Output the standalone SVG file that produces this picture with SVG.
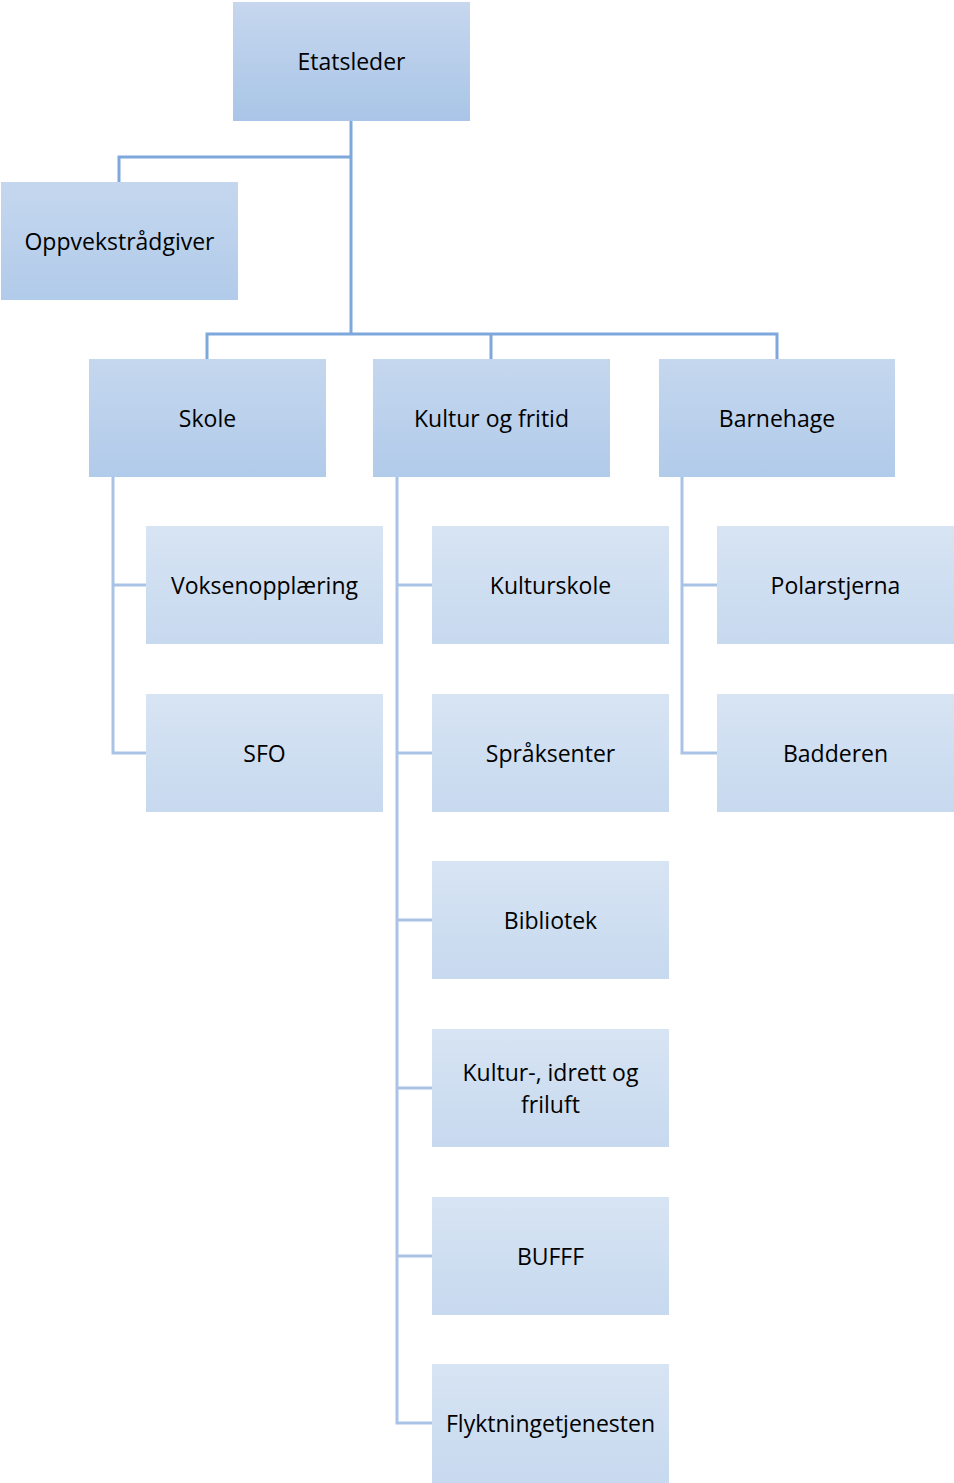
<svg xmlns="http://www.w3.org/2000/svg" width="954" height="1483" viewBox="0 0 954 1483">
<defs>
<linearGradient id="g1" x1="0" y1="0" x2="0" y2="1"><stop offset="0" stop-color="#c6d7ee"/><stop offset="1" stop-color="#a9c5e7"/></linearGradient>
<linearGradient id="g2" x1="0" y1="0" x2="0" y2="1"><stop offset="0" stop-color="#c5d7ee"/><stop offset="1" stop-color="#b1cbea"/></linearGradient>
<linearGradient id="g3" x1="0" y1="0" x2="0" y2="1"><stop offset="0" stop-color="#d7e4f3"/><stop offset="1" stop-color="#c7d9ef"/></linearGradient>
</defs>
<style>
text{font-family:"Open Sans","Noto Sans",sans-serif;font-size:23px;fill:#000;text-anchor:middle;dominant-baseline:central}
.c1{fill:none;stroke:#7ea7dc;stroke-width:3}
.c2{fill:none;stroke:#a9c3e7;stroke-width:3}
</style>
<g id="connectors">
<path class="c1" d="M351 121V334M351 157H119V182M207 359V334H777V359M491 334V359"/>
<path class="c2" d="M113 477V753H146M113 585H146"/>
<path class="c2" d="M397 477V1423H432M397 585H432M397 753H432M397 920H432M397 1088H432M397 1256H432"/>
<path class="c2" d="M682 477V753H717M682 585H717"/>
</g>
<g id="n-etatsleder"><rect x="233" y="2" width="237" height="119" fill="url(#g1)"/><text x="351.5" y="61">Etatsleder</text></g>
<g id="n-oppvekst"><rect x="1" y="182" width="237" height="118" fill="url(#g2)"/><text x="119.5" y="241">Oppvekstrådgiver</text></g>
<g id="n-skole"><rect x="89" y="359" width="237" height="118" fill="url(#g2)"/><text x="207.5" y="418">Skole</text></g>
<g id="n-kultur"><rect x="373" y="359" width="237" height="118" fill="url(#g2)"/><text x="491.5" y="418">Kultur og fritid</text></g>
<g id="n-barnehage"><rect x="659" y="359" width="236" height="118" fill="url(#g2)"/><text x="777" y="418">Barnehage</text></g>
<g id="n-voksen"><rect x="146" y="526" width="237" height="118" fill="url(#g3)"/><text x="264.5" y="585">Voksenopplæring</text></g>
<g id="n-sfo"><rect x="146" y="694" width="237" height="118" fill="url(#g3)"/><text x="264.5" y="753">SFO</text></g>
<g id="n-kulturskole"><rect x="432" y="526" width="237" height="118" fill="url(#g3)"/><text x="550.5" y="585">Kulturskole</text></g>
<g id="n-sprak"><rect x="432" y="694" width="237" height="118" fill="url(#g3)"/><text x="550.5" y="753">Språksenter</text></g>
<g id="n-bibliotek"><rect x="432" y="861" width="237" height="118" fill="url(#g3)"/><text x="550.5" y="920">Bibliotek</text></g>
<g id="n-kif"><rect x="432" y="1029" width="237" height="118" fill="url(#g3)"/><text x="550.5" y="1072">Kultur-, idrett og</text><text x="550.5" y="1104">friluft</text></g>
<g id="n-bufff"><rect x="432" y="1197" width="237" height="118" fill="url(#g3)"/><text x="550.5" y="1256">BUFFF</text></g>
<g id="n-flykt"><rect x="432" y="1364" width="237" height="119" fill="url(#g3)"/><text x="550.5" y="1423">Flyktningetjenesten</text></g>
<g id="n-polar"><rect x="717" y="526" width="237" height="118" fill="url(#g3)"/><text x="835.5" y="585">Polarstjerna</text></g>
<g id="n-badderen"><rect x="717" y="694" width="237" height="118" fill="url(#g3)"/><text x="835.5" y="753">Badderen</text></g>
</svg>
